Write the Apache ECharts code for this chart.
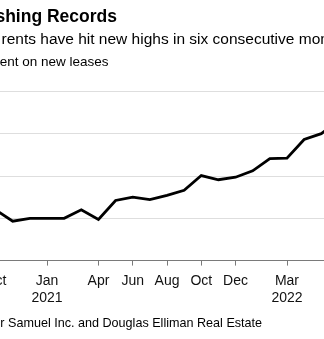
<!DOCTYPE html>
<html>
<head>
<meta charset="utf-8">
<script src="https://cdn.jsdelivr.net/npm/echarts@6/dist/echarts.min.js"></script>
<style>
  html, body { margin: 0; padding: 0; background: #fff; overflow: hidden; width: 324px; height: 339px; }
  #chart { position: absolute; left: -60px; top: 0; width: 424px; height: 339px; }
</style>
</head>
<body>
<div id="chart"></div>
<script>
// Monthly median rent on new Manhattan leases (USD)
const months = [
  'Oct 2020', 'Nov 2020', 'Dec 2020',
  'Jan 2021', 'Feb 2021', 'Mar 2021', 'Apr 2021', 'May 2021', 'Jun 2021',
  'Jul 2021', 'Aug 2021', 'Sep 2021', 'Oct 2021', 'Nov 2021', 'Dec 2021',
  'Jan 2022', 'Feb 2022', 'Mar 2022', 'Apr 2022', 'May 2022', 'Jun 2022'
];
const medianRent = [
  3100, 2965, 3000,
  3000, 3000, 3100, 2985, 3210, 3250,
  3220, 3270, 3330, 3505, 3455, 3485,
  3560, 3705, 3710, 3930, 4000, 4150
];
// Months that carry a tick and label, and the label text shown for each
const labeledMonths = ['Oct 2020', 'Jan 2021', 'Apr 2021', 'Jun 2021', 'Aug 2021', 'Oct 2021', 'Dec 2021', 'Mar 2022'];
const monthLabels   = ['Oct', 'Jan\n2021', 'Apr', 'Jun', 'Aug', 'Oct', 'Dec', 'Mar\n2022'];
const rentTicks = [2500, 3000, 3500, 4000, 4500];

const titleText  = 'Manhattan Rents Keep Smashing Records';
const deckText   = 'Manhattan rents have hit new highs in six consecutive months';
const unitText   = 'Median rent on new leases';
const sourceText = 'Source: Miller Samuel Inc. and Douglas Elliman Real Estate';

const FAMILY = '"Liberation Sans", Arial, Helvetica, sans-serif';
const SHIFT = 60; // the drawing surface starts this far left of the window

const measureCtx = document.createElement('canvas').getContext('2d');
function textWidth(str, font) {
  measureCtx.font = font;
  return measureCtx.measureText(str).width;
}

const titleFont  = 'bold 17.5px ' + FAMILY;
const deckFont   = '15.5px ' + FAMILY;
const unitFont   = '13.5px ' + FAMILY;
const sourceFont = '12.6px ' + FAMILY;

const chart = echarts.init(document.getElementById('chart'), null, { renderer: 'canvas' });

chart.setOption({
  backgroundColor: '#ffffff',
  animation: false,
  grid: { left: SHIFT - 4.4, right: 424 - (SHIFT + 338.4), top: 91.3, bottom: 339 - 260.6, containLabel: false },
  xAxis: {
    type: 'category',
    data: months,
    boundaryGap: false,
    axisLine: { show: true, lineStyle: { color: '#7a7a7a', width: 1 } },
    axisTick: {
      show: true,
      length: 5,
      lineStyle: { color: '#7a7a7a', width: 1 },
      interval: (i, v) => labeledMonths.indexOf(v) >= 0
    },
    axisLabel: {
      interval: (i, v) => labeledMonths.indexOf(v) >= 0,
      formatter: v => monthLabels[labeledMonths.indexOf(v)] || '',
      color: '#111',
      fontFamily: FAMILY,
      fontSize: 14,
      lineHeight: 17.5,
      margin: 11.5
    },
    splitLine: { show: false }
  },
  yAxis: {
    type: 'value',
    min: rentTicks[0],
    max: rentTicks[rentTicks.length - 1],
    interval: 500,
    axisLine: { show: false },
    axisTick: { show: false },
    axisLabel: {
      color: '#111',
      fontFamily: FAMILY,
      fontSize: 13,
      formatter: v => '$' + v.toLocaleString('en-US')
    },
    splitLine: { show: true, lineStyle: { color: '#dedede', width: 1 } }
  },
  series: [{
    type: 'line',
    data: medianRent,
    symbol: 'none',
    lineStyle: { color: '#000', width: 2.8, join: 'miter' }
  }],
  graphic: [
    { type: 'text', x: SHIFT + 117, y: 17.3, style: { text: titleText, font: titleFont, fill: '#000', align: 'right', verticalAlign: 'middle' } },
    { type: 'text', x: SHIFT + 1.5 - textWidth('Manhattan ', deckFont), y: 39.4, style: { text: deckText, font: deckFont, fill: '#000', align: 'left', verticalAlign: 'middle' } },
    { type: 'text', x: SHIFT - 0.3 - textWidth('Median r', unitFont), y: 62.0, style: { text: unitText, font: unitFont, fill: '#000', align: 'left', verticalAlign: 'middle' } },
    { type: 'text', x: SHIFT + 0.3 - textWidth('Source: Mille', sourceFont), y: 323.5, style: { text: sourceText, font: sourceFont, fill: '#000', align: 'left', verticalAlign: 'middle' } }
  ]
});
</script>
</body>
</html>
